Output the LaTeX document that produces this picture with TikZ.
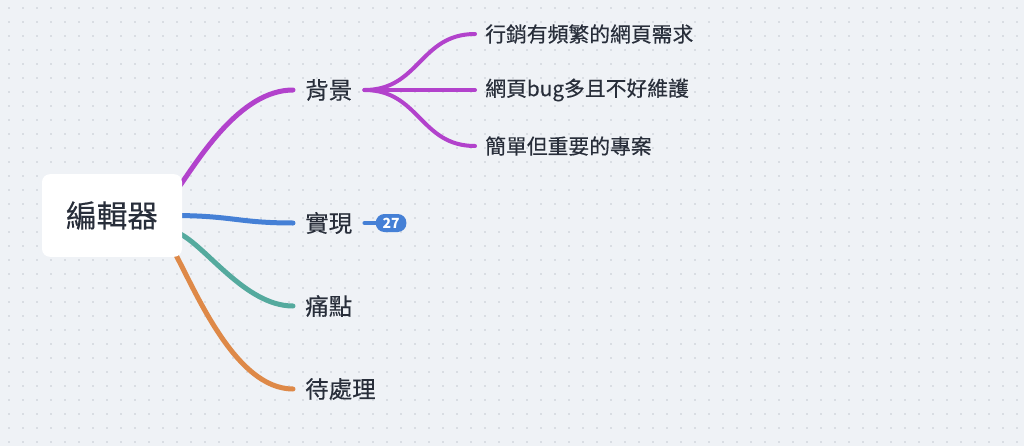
\documentclass[tikz,border=0pt]{standalone}
\usepackage{fontspec}
\setmainfont{Noto Sans CJK TC}
\newfontfamily\medfont{Noto Sans CJK TC}[FakeBold=0.35]
\usepackage{tikz}
\usetikzlibrary{positioning}
\definecolor{canvas}{RGB}{239,242,246}
\definecolor{dotgray}{RGB}{196,201,209}
\definecolor{ink}{RGB}{40,46,58}
\definecolor{mpurple}{RGB}{178,66,204}
\definecolor{mblue}{RGB}{69,128,214}
\definecolor{mteal}{RGB}{84,170,158}
\definecolor{morange}{RGB}{222,137,72}
\pgfdeclarelayer{bg}
\pgfdeclarelayer{links}
\pgfsetlayers{bg,links,main}

\begin{document}
\begin{tikzpicture}[
  x=0.75pt, y=-0.75pt,
  rootbox/.style={rectangle, rounded corners=6pt, fill=white, minimum width=105pt,
                  minimum height=62pt, text=ink, font=\medfont\fontsize{23}{26}\selectfont},
  branch/.style={anchor=west, inner xsep=9pt, inner ysep=2pt, text=ink,
                 font=\medfont\fontsize{17.6}{20}\selectfont},
  leaf/.style={anchor=west, inner xsep=7.5pt, inner ysep=2pt, text=ink,
               font=\medfont\fontsize{15.6}{18}\selectfont},
  badge/.style={rectangle, rounded corners=6.5pt, fill=mblue, text=white, minimum width=23pt,
                minimum height=13.5pt, inner sep=0pt, font=\bfseries\fontsize{10.5}{11}\selectfont},
  link/.style={line width=3.75pt, line cap=round},
  sublink/.style={line width=3pt, line cap=round, draw=mpurple}
]
\useasboundingbox (0,0) rectangle (1024,446);
\begin{pgfonlayer}{bg}
  \fill[canvas] (0,0) rectangle (1024,446);
  \foreach \gx in {9,23,...,1023}
    \foreach \gy in {8,22,...,446}
      \fill[dotgray] (\gx,\gy) circle (0.9);
\end{pgfonlayer}

\node[rootbox] (root) at (112,215.5) {編輯器};

\node[branch] (beijing) at (293,90)  {背景};
\node[branch] (shixian) at (293,223) {實現};
\node[branch] (tongdian) at (293,306) {痛點};
\node[branch] (daichuli) at (293,389) {待處理};

\node[badge, right=8.25pt of shixian] (count) {27};

\node[leaf] (xuqiu) at (475,34)  {行銷有頻繁的網頁需求};
\node[leaf] (weihu) at (475,90)  {網頁bug多且不好維護};
\node[leaf] (zhuanan) at (475,146) {簡單但重要的專案};

\begin{pgfonlayer}{links}
  \draw[link, mpurple] ([shift={(-4,-27.5)}]root.east) .. controls +(20,-28) and +(-53,0) .. (beijing.west);
  \draw[link, mblue] ([shift={(-10,0)}]root.east) .. controls +(60,0) and +(-55,0) .. (shixian.west);
  \draw[link, mteal] ([shift={(-4,17.5)}]root.east) .. controls +(27,12) and +(-48,0) .. (tongdian.west);
  \draw[link, morange] ([shift={(-8,36.5)}]root.east) .. controls +(21,38) and +(-58,0) .. (daichuli.west);
  \draw[link, line width=3pt, mblue] (shixian.east) -- (count.west);
  \draw[sublink] (beijing.east) .. controls +(55,0) and +(-55,0) .. (xuqiu.west);
  \draw[sublink] (beijing.east) -- (weihu.west);
  \draw[sublink] (beijing.east) .. controls +(55,0) and +(-55,0) .. (zhuanan.west);
\end{pgfonlayer}
\end{tikzpicture}
\end{document}
